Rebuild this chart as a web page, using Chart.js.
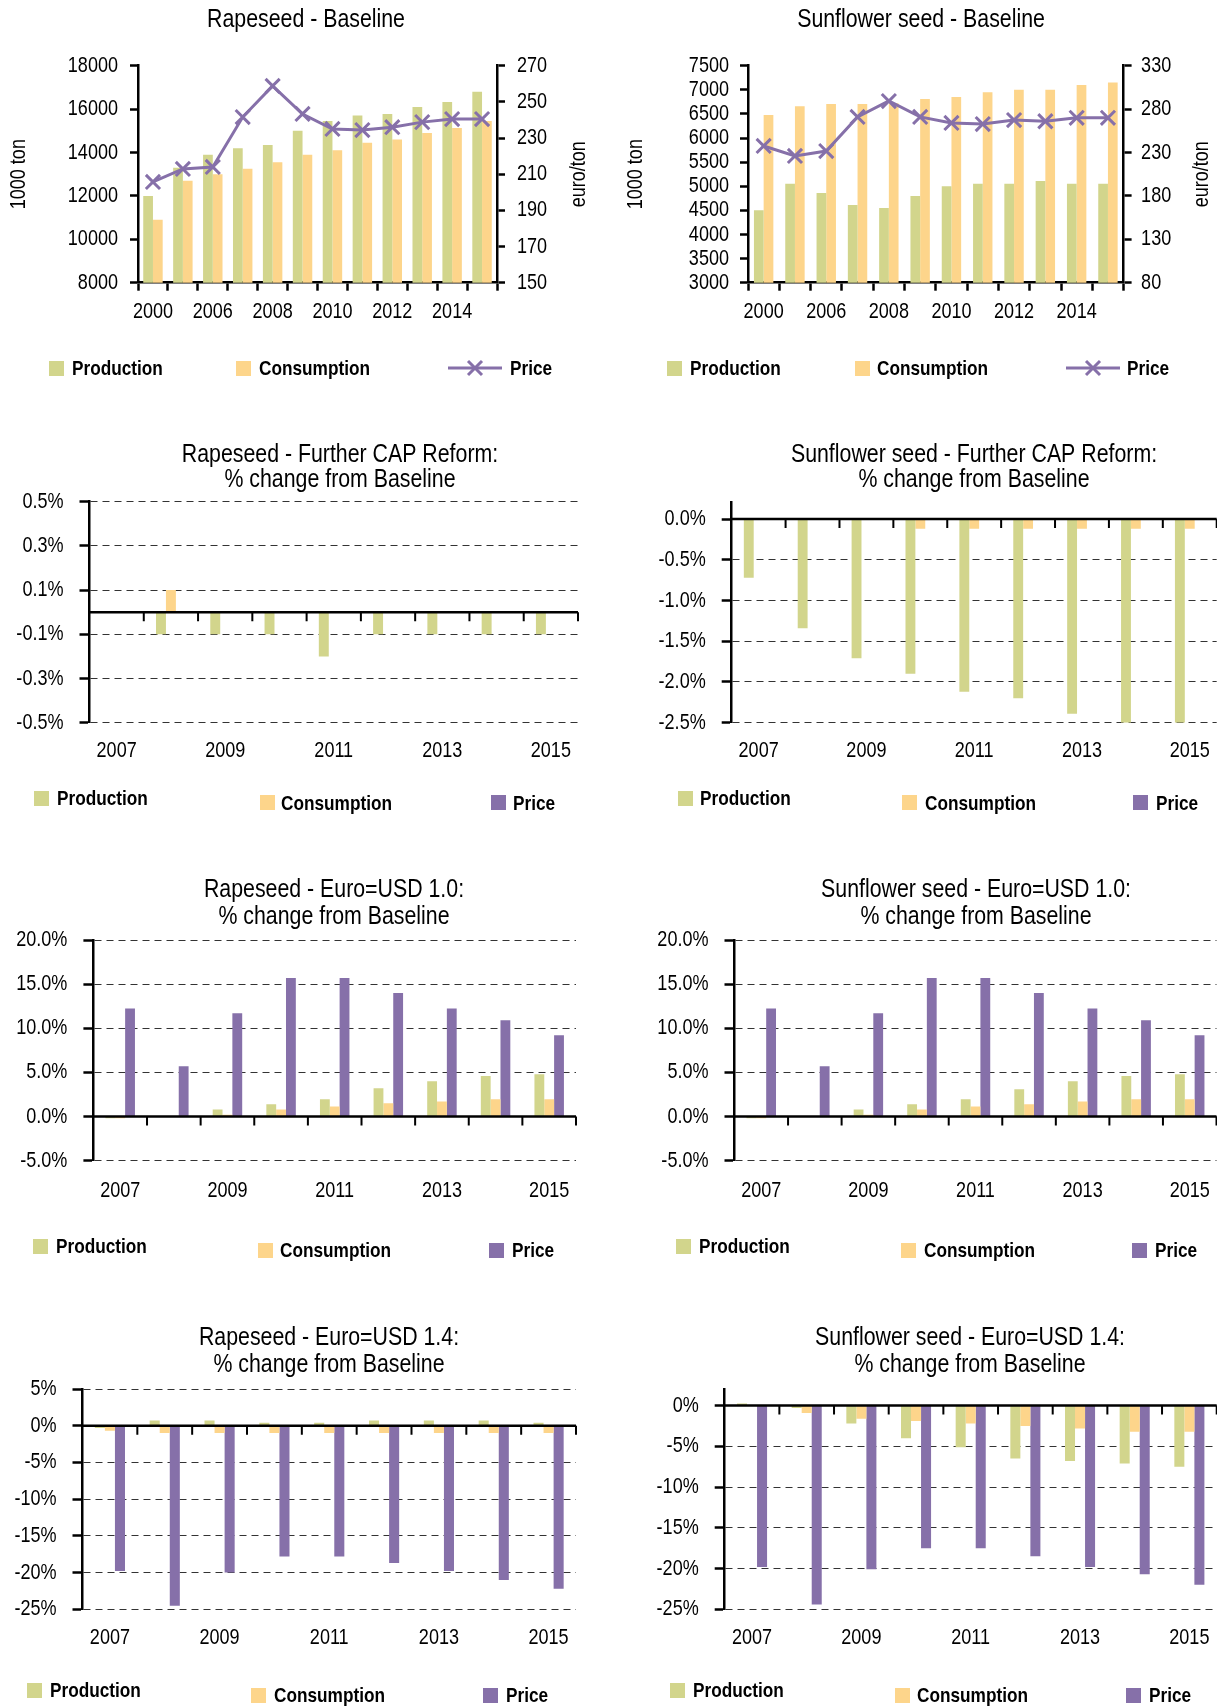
<!DOCTYPE html>
<html>
<head>
<meta charset="utf-8">
<script src="https://cdn.jsdelivr.net/npm/chart.js@4/dist/chart.umd.min.js"></script>
<style>
  html, body { margin: 0; padding: 0; background: #fff; }
  body { position: relative; width: 1217px; height: 1706px; overflow: hidden;
         font-family: 'Liberation Sans', Arial, sans-serif; }
  canvas { position: absolute; }
  .lgbox { position: absolute; width: 15px; height: 15px; }
  .lgline { position: absolute; }
  .lgtxt { position: absolute; font: bold 21px 'Liberation Sans', Arial, sans-serif;
           line-height: 26px; height: 26px; color: #000; white-space: nowrap;
           transform: scaleX(0.82); transform-origin: 0 50%; }
</style>
</head>
<body>
<canvas id="p1" width="608" height="400" style="left:0;top:0"></canvas>
<canvas id="p2" width="609" height="400" style="left:608px;top:0"></canvas>
<canvas id="p3" width="680" height="400" style="left:0;top:430px"></canvas>
<canvas id="p4" width="732" height="400" style="left:608px;top:430px"></canvas>
<canvas id="p5" width="668" height="400" style="left:0;top:870px"></canvas>
<canvas id="p6" width="736" height="400" style="left:608px;top:870px"></canvas>
<canvas id="p7" width="658" height="406" style="left:0;top:1300px"></canvas>
<canvas id="p8" width="724" height="406" style="left:608px;top:1300px"></canvas>
<script>
// ---------------- DATA ----------------
const baseYears = ['2000','2005','2006','2007','2008','2009','2010','2011','2012','2013','2014','2015'];
const scenYears = ['2007','2008','2009','2010','2011','2012','2013','2014','2015'];
const seriesNames = ['Production','Consumption','Price'];

// Baseline (1000 ton, euro/ton)
const rapeBaseProd  = [12000,13300,13900,14200,14350,15000,15450,15700,15770,16100,16330,16800];
const rapeBaseCons  = [10900,12700,13000,13250,13550,13900,14100,14450,14600,14900,15130,15450];
const rapeBasePrice = [205.7,212.9,214.0,241.6,258.8,243.3,235.0,234.4,236.0,238.8,240.5,240.5];

const sunBaseProd  = [4500,5050,4860,4610,4550,4800,5000,5050,5050,5110,5050,5050];
const sunBaseCons  = [6480,6660,6705,6705,6720,6810,6850,6950,7000,7000,7100,7150];
const sunBasePrice = [237.5,226.0,231.7,271.0,289.3,271.0,264.0,262.8,267.4,266.0,270.0,270.0];

// Further CAP Reform (% change from baseline)
const rapeCapProd  = [0,-0.1,-0.1,-0.1,-0.2,-0.1,-0.1,-0.1,-0.1];
const rapeCapCons  = [0,0.1,0,0,0,0,0,0,0];
const rapeCapPrice = [0,0,0,0,0,0,0,0,0];

const sunCapProd  = [-0.72,-1.34,-1.71,-1.9,-2.12,-2.2,-2.39,-2.5,-2.5];
const sunCapCons  = [0,0,0,-0.12,-0.12,-0.12,-0.12,-0.12,-0.12];
const sunCapPrice = [0,0,0,0,0,0,0,0,0];

// Euro = USD 1.0
const rapeUsd10Prod  = [-0.2,0,0.8,1.4,1.95,3.2,4.0,4.6,4.8];
const rapeUsd10Cons  = [-0.2,0,0.2,0.8,1.15,1.5,1.7,1.95,1.95];
const rapeUsd10Price = [12.25,5.7,11.7,15.7,15.7,14.0,12.25,10.9,9.2];

const sunUsd10Prod  = [-0.2,0,0.8,1.4,1.95,3.1,4.0,4.6,4.8];
const sunUsd10Cons  = [-0.2,0,0.2,0.8,1.15,1.4,1.7,1.95,1.95];
const sunUsd10Price = [12.25,5.7,11.7,15.7,15.7,14.0,12.25,10.9,9.2];

// Euro = USD 1.4
const rapeUsd14Prod  = [-0.3,0.7,0.7,0.4,0.4,0.7,0.7,0.7,0.4];
const rapeUsd14Cons  = [-0.7,-1.0,-1.0,-1.0,-1.0,-1.0,-1.0,-1.0,-1.0];
const rapeUsd14Price = [-19.8,-24.5,-20.0,-17.8,-17.8,-18.7,-19.8,-21.0,-22.2];

const sunUsd14Prod  = [0.25,-0.3,-2.2,-4.0,-5.1,-6.5,-6.8,-7.1,-7.5];
const sunUsd14Cons  = [0,-0.9,-1.6,-1.9,-2.2,-2.5,-2.8,-3.2,-3.2];
const sunUsd14Price = [-19.8,-24.4,-20.1,-17.5,-17.5,-18.5,-19.8,-20.7,-22.0];

// Tick labels
const rapeBaseTonTicks  = [8000,10000,12000,14000,16000,18000];
const rapeBaseEuroTicks = [150,170,190,210,230,250,270];
const sunBaseTonTicks   = [3000,3500,4000,4500,5000,5500,6000,6500,7000,7500];
const sunBaseEuroTicks  = [80,130,180,230,280,330];
const rapeCapTicks   = [-0.5,-0.3,-0.1,0.1,0.3,0.5];
const sunCapTicks    = [-2.5,-2.0,-1.5,-1.0,-0.5,0.0];
const usd10Ticks     = [-5,0,5,10,15,20];
const rapeUsd14Ticks = [-25,-20,-15,-10,-5,0,5];
const sunUsd14Ticks  = [-25,-20,-15,-10,-5,0];

// ---------------- STYLE ----------------
const COLORS = ['#D2D58C', '#FDD58B', '#8670A9'];
const FONT = "'Liberation Sans', Arial, sans-serif";
const NARROW = 0.82;   // horizontal squeeze to mimic a condensed face
Chart.defaults.font.family = FONT;
Chart.defaults.color = '#000';

function everyOther(v, i) { return i % 2 === 0 ? this.getLabelForValue(v) : ''; }

// draw all canvas text horizontally condensed around its anchor point
const narrowText = {
  id: 'narrowText',
  beforeInit(chart) {
    const ctx = chart.ctx;
    if (ctx._narrowed) return;
    ctx._narrowed = true;
    const orig = ctx.fillText;
    ctx.fillText = function (t, x, y, mw) {
      this.save();
      this.translate(x, y);
      this.scale(NARROW, 1);
      if (mw === undefined || mw === null) orig.call(this, t, 0, 0);
      else orig.call(this, t, 0, 0, mw / NARROW);
      this.restore();
    };
  }
};

const zeroLine = {
  id: 'zeroLine',
  afterDatasetsDraw(chart, args, o) {
    if (!o || !o.show) return;
    const xs = chart.scales.x, ys = chart.scales.y, ca = chart.chartArea, ctx = chart.ctx;
    const y0 = ys.getPixelForValue(0);
    ctx.save();
    ctx.strokeStyle = '#000';
    ctx.lineWidth = 2.5;
    ctx.beginPath(); ctx.moveTo(ca.left, y0); ctx.lineTo(ca.right, y0); ctx.stroke();
    ctx.lineWidth = 2;
    ctx.beginPath();
    const n = xs.getLabels().length;
    for (let i = 1; i <= n; i++) {
      const px = xs.getPixelForValue(i - 0.5);
      ctx.moveTo(px, y0); ctx.lineTo(px, y0 + 9);
    }
    ctx.stroke();
    ctx.restore();
  }
};

const sideTitle = {
  id: 'sideTitle',
  afterDraw(chart, args, o) {
    if (!o || !o.text) return;
    const ca = chart.chartArea, ctx = chart.ctx;
    ctx.save();
    ctx.translate(o.x, (ca.top + ca.bottom) / 2);
    ctx.rotate(-Math.PI / 2);
    ctx.font = '22px ' + FONT;
    ctx.fillStyle = '#000';
    ctx.textAlign = 'center';
    ctx.textBaseline = 'middle';
    ctx.fillText(o.text, 0, 0);
    ctx.restore();
  }
};

function baseChart(id, lay, title, prod, cons, price, tonTicks, euroTicks) {
  return new Chart(document.getElementById(id), {
    type: 'bar',
    data: {
      labels: baseYears,
      datasets: [
        { label: seriesNames[0], data: prod, backgroundColor: COLORS[0], yAxisID: 'y' },
        { label: seriesNames[1], data: cons, backgroundColor: COLORS[1], yAxisID: 'y' },
        { type: 'line', label: seriesNames[2], data: price, yAxisID: 'y1', order: -1,
          borderColor: COLORS[2], borderWidth: 3, tension: 0, fill: false,
          pointStyle: 'crossRot', pointRadius: 10, pointBorderWidth: 3,
          pointBorderColor: COLORS[2], pointBackgroundColor: COLORS[2] }
      ]
    },
    options: {
      responsive: false, animation: false, devicePixelRatio: 1,
      layout: { padding: { left: lay.padL, right: lay.padR, top: 0, bottom: 0 } },
      datasets: { bar: { categoryPercentage: lay.cp, barPercentage: 1 } },
      plugins: {
        legend: { display: false }, tooltip: { enabled: false },
        title: { display: true, text: title, color: '#000',
                 font: { size: 26, weight: 'normal', lineHeight: lay.tlh },
                 padding: { top: lay.tp, bottom: lay.bp } },
        sideTitle: { text: 'euro/ton', x: lay.rtx }
      },
      scales: {
        x: {
          afterFit: s => { s.height = lay.xH; },
          grid: { drawOnChartArea: false, color: '#000', tickLength: 8, tickWidth: 2.5, offset: true },
          border: { color: '#000', width: 2.5 },
          ticks: { autoSkip: false, maxRotation: 0, padding: 8, font: { size: 22 }, color: '#000', callback: everyOther }
        },
        y: {
          position: 'left', min: tonTicks[0], max: tonTicks[tonTicks.length - 1],
          afterBuildTicks: s => { s.ticks = tonTicks.map(v => ({ value: v })); },
          afterFit: s => { s.width = lay.yW; },
          grid: { drawOnChartArea: false, color: '#000', tickLength: 8, tickWidth: 2.5 },
          border: { color: '#000', width: 2.5 },
          ticks: { autoSkip: false, padding: lay.lpad, font: { size: 22 }, color: '#000', callback: v => String(v) },
          title: { display: true, text: '1000 ton', color: '#000', font: { size: 22, lineHeight: 1 },
                   padding: { top: lay.ltp, bottom: 0 } }
        },
        y1: {
          position: 'right', min: euroTicks[0], max: euroTicks[euroTicks.length - 1],
          afterBuildTicks: s => { s.ticks = euroTicks.map(v => ({ value: v })); },
          afterFit: s => { s.width = lay.y1W; },
          grid: { drawOnChartArea: false, color: '#000', tickLength: 8, tickWidth: 2.5 },
          border: { color: '#000', width: 2.5 },
          ticks: { autoSkip: false, padding: lay.rpad, font: { size: 22 }, color: '#000', callback: v => String(v) }
        }
      }
    },
    plugins: [narrowText, sideTitle]
  });
}

function scenChart(id, lay, title, prod, cons, price, ticks, yMin, yMax, dec) {
  return new Chart(document.getElementById(id), {
    type: 'bar',
    data: {
      labels: scenYears,
      datasets: [
        { label: seriesNames[0], data: prod, backgroundColor: COLORS[0] },
        { label: seriesNames[1], data: cons, backgroundColor: COLORS[1] },
        { label: seriesNames[2], data: price, backgroundColor: COLORS[2] }
      ]
    },
    options: {
      responsive: false, animation: false, devicePixelRatio: 1,
      layout: { padding: 0 },
      datasets: { bar: { categoryPercentage: 0.55, barPercentage: 1 } },
      plugins: {
        legend: { display: false }, tooltip: { enabled: false },
        title: { display: true, text: title, color: '#000',
                 font: { size: 26, weight: 'normal', lineHeight: lay.tlh },
                 padding: { top: lay.tp, bottom: lay.bp } },
        zeroLine: { show: true }
      },
      scales: {
        x: {
          afterFit: s => { s.height = lay.xH; },
          grid: { display: false, drawTicks: false },
          border: { display: false },
          ticks: { autoSkip: false, maxRotation: 0, padding: lay.xPad, font: { size: 22 }, color: '#000', callback: everyOther }
        },
        y: {
          min: yMin, max: yMax,
          afterBuildTicks: s => { s.ticks = ticks.map(v => ({ value: v })); },
          afterFit: s => { s.width = lay.yW; },
          grid: { color: '#333', lineWidth: 1, tickColor: '#000', tickWidth: 2.5, tickLength: 10, tickBorderDash: [] },
          border: { display: true, color: '#000', width: 2.5, dash: [7, 5] },
          ticks: { autoSkip: false, padding: 16, font: { size: 22 }, color: '#000', callback: v => v.toFixed(dec) + '%' }
        },
        // empty spacer box on the right so the title centres over the plot like the original
        spacer: {
          type: 'linear', position: 'right', min: 0, max: 1,
          afterFit: s => { s.width = lay.spW; },
          grid: { display: false, drawTicks: false }, border: { display: false }, ticks: { display: false }
        }
      }
    },
    plugins: [narrowText, zeroLine]
  });
}

// ---------------- CHARTS ----------------
baseChart('p1', { padL: 4, padR: 0, yW: 134, y1W: 111, xH: 117.3, tp: 4.4, bp: 30.1, tlh: 1.2, ltp: 3.7, rtx: 579, cp: 0.65, lpad: 12, rpad: 12 },
  'Rapeseed - Baseline', rapeBaseProd, rapeBaseCons, rapeBasePrice, rapeBaseTonTicks, rapeBaseEuroTicks);
baseChart('p2', { padL: 17, padR: 0, yW: 123, y1W: 93.4, xH: 117.3, tp: 4.4, bp: 30.1, tlh: 1.2, ltp: 0, rtx: 594, cp: 0.62, lpad: 11, rpad: 9.5 },
  'Sunflower seed - Baseline', sunBaseProd, sunBaseCons, sunBasePrice, sunBaseTonTicks, sunBaseEuroTicks);

scenChart('p3', { yW: 89.5, spW: 102, xH: 107.3, tp: 12.5, bp: 9.3, tlh: 0.96, xPad: 15 },
  ['Rapeseed - Further CAP Reform:', '% change from Baseline'], rapeCapProd, rapeCapCons, rapeCapPrice, rapeCapTicks, -0.5, 0.5, 1);
scenChart('p4', { yW: 123.7, spW: 123.3, xH: 107.3, tp: 12.5, bp: 10.3, tlh: 0.96, xPad: 15 },
  ['Sunflower seed - Further CAP Reform:', '% change from Baseline'], sunCapProd, sunCapCons, sunCapPrice, sunCapTicks, -2.5, 0.2, 1);
scenChart('p5', { yW: 93.4, spW: 92, xH: 109.3, tp: 6.65, bp: 9.95, tlh: 1.027, xPad: 17 },
  ['Rapeseed - Euro=USD 1.0:', '% change from Baseline'], rapeUsd10Prod, rapeUsd10Cons, rapeUsd10Price, usd10Ticks, -5, 20, 1);
scenChart('p6', { yW: 126.5, spW: 127.5, xH: 109.3, tp: 6.65, bp: 9.95, tlh: 1.027, xPad: 17 },
  ['Sunflower seed - Euro=USD 1.0:', '% change from Baseline'], sunUsd10Prod, sunUsd10Cons, sunUsd10Price, usd10Ticks, -5, 20, 1);
scenChart('p7', { yW: 82.5, spW: 82, xH: 96.7, tp: 24.95, bp: 10.65, tlh: 1.027, xPad: 15 },
  ['Rapeseed - Euro=USD 1.4:', '% change from Baseline'], rapeUsd14Prod, rapeUsd14Cons, rapeUsd14Price, rapeUsd14Ticks, -25, 5, 0);
scenChart('p8', { yW: 116.7, spW: 115.3, xH: 96.7, tp: 24.95, bp: 10.95, tlh: 1.027, xPad: 15 },
  ['Sunflower seed - Euro=USD 1.4:', '% change from Baseline'], sunUsd14Prod, sunUsd14Cons, sunUsd14Price, sunUsd14Ticks, -25, 2, 0);

// ---------------- LEGENDS (HTML) ----------------
const legendLayouts = [
  [{ k: 'box', x: 49, y: 368, tx: 72 }, { k: 'box', x: 236, y: 368, tx: 259 }, { k: 'line', x: 448, w: 54, y: 368, tx: 510 }],
  [{ k: 'box', x: 667, y: 368, tx: 690 }, { k: 'box', x: 855, y: 368, tx: 877 }, { k: 'line', x: 1066, w: 54, y: 368, tx: 1127 }],
  [{ k: 'box', x: 34, y: 798, tx: 57 }, { k: 'box', x: 259.5, y: 802.7, tx: 281 }, { k: 'box', x: 491, y: 802.7, tx: 513 }],
  [{ k: 'box', x: 678, y: 798, tx: 700 }, { k: 'box', x: 902, y: 802.7, tx: 925 }, { k: 'box', x: 1133, y: 802.7, tx: 1156 }],
  [{ k: 'box', x: 33, y: 1246, tx: 56 }, { k: 'box', x: 258, y: 1250, tx: 280 }, { k: 'box', x: 489, y: 1250, tx: 512 }],
  [{ k: 'box', x: 676, y: 1246, tx: 699 }, { k: 'box', x: 901, y: 1250, tx: 924 }, { k: 'box', x: 1132, y: 1250, tx: 1155 }],
  [{ k: 'box', x: 26.5, y: 1690, tx: 50 }, { k: 'box', x: 251, y: 1695, tx: 274 }, { k: 'box', x: 482.5, y: 1695, tx: 506 }],
  [{ k: 'box', x: 670, y: 1690, tx: 693 }, { k: 'box', x: 895, y: 1695, tx: 917 }, { k: 'box', x: 1126, y: 1695, tx: 1149 }]
];
const SVGNS = 'http://www.w3.org/2000/svg';
legendLayouts.forEach(items => {
  items.forEach((it, i) => {
    if (it.k === 'box') {
      const d = document.createElement('div');
      d.className = 'lgbox';
      d.style.left = it.x + 'px';
      d.style.top = (it.y - 7.5) + 'px';
      d.style.background = COLORS[i];
      document.body.appendChild(d);
    } else {
      const svg = document.createElementNS(SVGNS, 'svg');
      svg.setAttribute('class', 'lgline');
      svg.setAttribute('width', it.w);
      svg.setAttribute('height', 20);
      svg.style.left = it.x + 'px';
      svg.style.top = (it.y - 10) + 'px';
      const c = it.w / 2;
      const parts = [[0, 10, it.w, 10], [c - 7, 3, c + 7, 17], [c - 7, 17, c + 7, 3]];
      parts.forEach(p => {
        const l = document.createElementNS(SVGNS, 'line');
        l.setAttribute('x1', p[0]); l.setAttribute('y1', p[1]);
        l.setAttribute('x2', p[2]); l.setAttribute('y2', p[3]);
        l.setAttribute('stroke', COLORS[2]); l.setAttribute('stroke-width', 3);
        svg.appendChild(l);
      });
      document.body.appendChild(svg);
    }
    const t = document.createElement('span');
    t.className = 'lgtxt';
    t.style.left = it.tx + 'px';
    t.style.top = (it.y - 13) + 'px';
    t.textContent = seriesNames[i];
    document.body.appendChild(t);
  });
});
</script>
</body>
</html>
